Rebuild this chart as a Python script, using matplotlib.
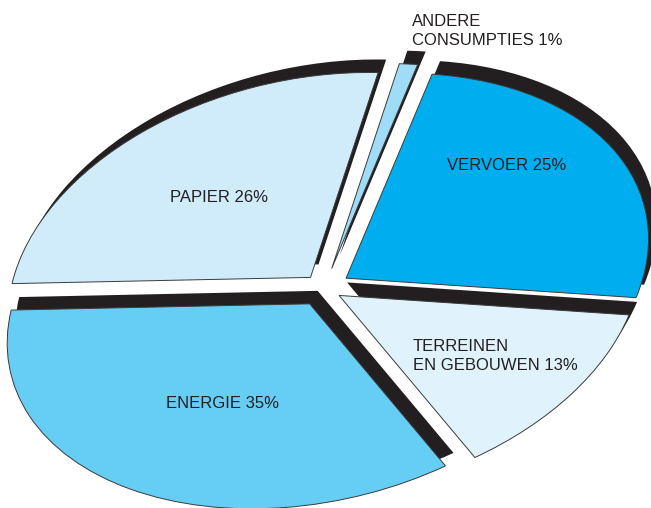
import matplotlib
matplotlib.use("Agg")
import matplotlib.pyplot as plt
from matplotlib.transforms import Affine2D

# slice data, clockwise from the top
labels = ["VERVOER 25%", "TERREINEN\nEN GEBOUWEN 13%", "ENERGIE 35%", "PAPIER 26%", "ANDERE\nCONSUMPTIES 1%"]
shares = [25, 13, 35, 26, 1]
colors = ["#00aeef", "#e0f3fc", "#66cdf5", "#d0ecfa", "#9fdcf7"]
explode = [0.083, 0.065, 0.08, 0.08, 0.10]

W, H = 651, 508
CX, CY = 324, H - 289              # pie centre in pixels (y up)
TILT = (290, -19.5, 86, 204)       # circle -> tilted ellipse (a, b, c, d)
SHIFT = (8, 13)                    # shadow offset in pixels (right, up)

plt.rcParams["font.family"] = ["Liberation Sans", "DejaVu Sans"]

fig = plt.figure(figsize=(W / 100, H / 100), dpi=100)
ax = fig.add_axes([0, 0, 1, 1])


def squash(dx=0, dy=0):
    a, b, c, d = TILT
    return Affine2D.from_values(a, b, c, d, CX + dx, CY + dy) + ax.transData


# dark "thickness" layer under the slices
shadow, _ = ax.pie(shares, explode=explode, colors=["#231f20"] * len(shares),
                   startangle=90, counterclock=False,
                   wedgeprops=dict(linewidth=0))
for w in shadow:
    w.set_transform(squash(*SHIFT))

slices, _ = ax.pie(shares, explode=explode, colors=colors,
                   startangle=90, counterclock=False,
                   wedgeprops=dict(edgecolor="#3a3a3a", linewidth=0.7))
for w in slices:
    w.set_transform(squash())

ax.set_aspect("auto")
ax.set_xlim(0, W)
ax.set_ylim(0, H)
ax.axis("off")


def px(x, y):
    return x / W, 1 - y / H


label_pos = {
    "VERVOER 25%": ((507, 165), "center"),
    "TERREINEN\nEN GEBOUWEN 13%": ((413, 356), "left"),
    "ENERGIE 35%": ((222, 404), "center"),
    "PAPIER 26%": ((219, 198), "center"),
    "ANDERE\nCONSUMPTIES 1%": ((412, 31), "left"),
}
for lab in labels:
    (x, y), ha = label_pos[lab]
    fig.text(*px(x, y), lab, ha=ha, va="center", fontsize=12,
             color="#231f20", linespacing=1.3)

fig.savefig("out.png", dpi=100)
